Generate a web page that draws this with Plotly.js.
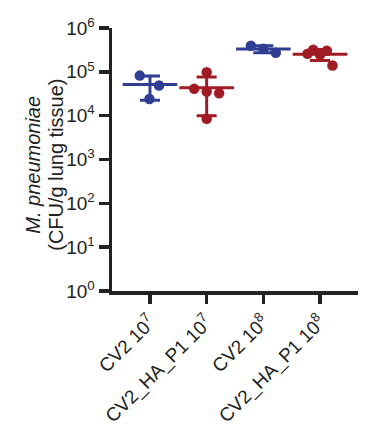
<!DOCTYPE html>
<html>
<head>
<meta charset="utf-8">
<script src="https://cdn.plot.ly/plotly-3.0.1.min.js"></script>
<style>html,body{margin:0;padding:0;background:#fff;}#chart{width:382px;height:430px;}</style>
</head>
<body>
<div id="chart"></div>
<script>
// Data (CFU/g lung tissue)
var groups = ["CV2 10<sup>7</sup>", "CV2_HA_P1 10<sup>7</sup>", "CV2 10<sup>8</sup>", "CV2_HA_P1 10<sup>8</sup>"];
var groupColors = ["#2f3d94", "#a01b23", "#2f3d94", "#a01b23"];
var cv2_1e7 = [82000, 48600, 24000];
var ha_1e7 = [98000, 40900, 35400, 32600, 8500];
var cv2_1e8 = [394000, 336000, 272000];
var ha_1e8 = [258000, 318000, 245000, 302000, 139000];
// horizontal scatter offsets (category units) of individual points
var jit_cv2_1e7 = [-0.18, 0.16, -0.01];
var jit_ha_1e7 = [0.0, -0.22, 0.0, 0.22, 0.0];
var jit_cv2_1e8 = [-0.22, 0.0, 0.22];
var jit_ha_1e8 = [-0.22, -0.12, 0.0, 0.12, 0.22];
var yTickVals = [1, 10, 100, 1000, 10000, 100000, 1000000];
var yTickText = ["10<sup>0</sup>", "10<sup>1</sup>", "10<sup>2</sup>", "10<sup>3</sup>", "10<sup>4</sup>", "10<sup>5</sup>", "10<sup>6</sup>"];
var yTitleLines = ["<i>M. pneumoniae</i>", "(CFU/g lung tissue)"];

var series = [cv2_1e7, ha_1e7, cv2_1e8, ha_1e8];
var jitters = [jit_cv2_1e7, jit_ha_1e7, jit_cv2_1e8, jit_ha_1e8];

function mean(a){ return a.reduce(function(s,v){return s+v;},0)/a.length; }
function sd(a){ var m=mean(a); return Math.sqrt(a.reduce(function(s,v){return s+(v-m)*(v-m);},0)/(a.length-1)); }

var traces = [];
series.forEach(function(vals, i){
  traces.push({
    type: 'scatter', mode: 'markers',
    x: vals.map(function(v,k){ return i + jitters[i][k]; }),
    y: vals,
    marker: {color: groupColors[i], size: 10.5, line: {width: 0}},
    hoverinfo: 'skip', showlegend: false, cliponaxis: false
  });
});
series.forEach(function(vals, i){
  traces.push({
    type: 'scatter', mode: 'markers',
    x: [i], y: [mean(vals)],
    marker: {symbol: 'line-ew-open', size: 39, color: groupColors[i], line: {color: groupColors[i], width: 3}},
    error_y: {type: 'data', symmetric: true, array: [sd(vals)], color: groupColors[i], thickness: 3, width: 10},
    hoverinfo: 'skip', showlegend: false, cliponaxis: false
  });
});

var annotations = yTitleLines.map(function(t, k){
  return {
    text: t, xref: 'paper', yref: 'paper', x: 0, y: 0.48,
    xanchor: 'center', yanchor: 'middle', textangle: -90, showarrow: false,
    xshift: (k === 0 ? -79 : -56), font: {size: 20, color: '#222'}
  };
});

var layout = {
  width: 382, height: 430,
  margin: {l: 112, r: 24, t: 28, b: 139},
  paper_bgcolor: '#fff', plot_bgcolor: '#fff',
  font: {family: 'Liberation Sans, Arial, sans-serif', color: '#222', size: 18},
  annotations: annotations,
  xaxis: {
    range: [-0.67, 3.67], tickvals: [0,1,2,3], ticktext: groups,
    tickangle: -45, ticks: 'outside', ticklen: 9, tickwidth: 3.5, tickcolor: '#222',
    showline: true, linewidth: 3.5, linecolor: '#222', showgrid: false, zeroline: false,
    tickfont: {size: 19, color: '#222'}, automargin: false
  },
  yaxis: {
    type: 'log', range: [0, 6], tickvals: yTickVals, ticktext: yTickText,
    ticks: 'outside', ticklen: 10, tickwidth: 3.5, tickcolor: '#222',
    showline: true, linewidth: 3.5, linecolor: '#222', showgrid: false, zeroline: false,
    tickfont: {size: 19, color: '#222'}, automargin: false
  }
};

Plotly.newPlot('chart', traces, layout, {staticPlot: true, displayModeBar: false});
</script>
</body>
</html>
